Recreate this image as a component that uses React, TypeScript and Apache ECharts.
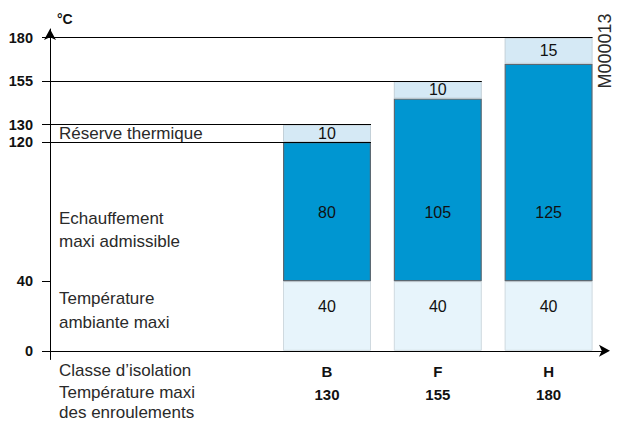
import React, { useEffect, useRef } from "react";
import * as echarts from "echarts";

const categories = ["B", "F", "H"];
const windingMax = [130, 155, 180];
const ambient = [40, 40, 40];
const heating = [80, 105, 125];
const reserve = [10, 10, 15];
const yTicks = [0, 40, 120, 130, 155, 180];

const FONT = '"Liberation Sans", Arial, Helvetica, sans-serif';
const W = 617;
const H = 423;
const GRID_LEFT = 50;
const GRID_RIGHT = 13;
const BANDS = 5;
const FIRST_BAND = 2;
const BAR_W = 88;
const TOP = 29;
const BOTTOM = 63.5;

export default function App() {
  const ref = useRef<HTMLDivElement>(null);
  useEffect(() => {
    if (!ref.current) return;
    const chart = echarts.init(ref.current, undefined, { renderer: "svg" });
    const unit = (W - GRID_LEFT - GRID_RIGHT) / BANDS;
    const half = BAR_W / 2 / unit;
    const center = (i: number) => FIRST_BAND + i + 0.5;
    const seg = (y: number, x2: number) => [{ coord: [0, y] }, { coord: [x2, y] }];
    const lineData = [
      seg(yTicks[1], BANDS + 0.02),
      seg(yTicks[2], center(0) + half),
      seg(yTicks[3], center(0) + half),
      seg(yTicks[4], center(1) + half),
      seg(yTicks[5], center(2) + half),
    ];
    const numStyle = { fontFamily: FONT, fontSize: 16, color: "#111" };
    const yCommon = { type: "value", min: -5, max: 185 };
    const txt = (t: string, y: number) => ({
      type: "text",
      x: 59,
      y,
      style: { text: t, font: `17px ${FONT}`, fill: "#2a2a2a", textVerticalAlign: "middle" },
    });
    chart.setOption({
      animation: false,
      grid: [
        { left: GRID_LEFT, right: GRID_RIGHT, top: TOP, bottom: BOTTOM },
        { left: GRID_LEFT + FIRST_BAND * unit, right: GRID_RIGHT, top: TOP, bottom: BOTTOM },
      ],
      xAxis: [
        {
          type: "value",
          gridIndex: 0,
          min: 0,
          max: BANDS,
          axisLine: {
            onZero: true,
            lineStyle: { color: "#000", width: 1 },
            symbol: ["none", "arrow"],
            symbolSize: [9, 11],
            symbolOffset: [0, 6],
          },
          axisTick: { show: false },
          splitLine: { show: false },
          axisLabel: { show: false },
        },
        {
          type: "category",
          gridIndex: 1,
          data: categories,
          axisLine: { show: false, onZero: false },
          axisTick: { show: false },
          splitLine: { show: false },
          axisLabel: {
            interval: 0,
            margin: 0,
            fontFamily: FONT,
            fontSize: 15,
            fontWeight: "bold",
            color: "#111",
            lineHeight: 23,
            formatter: (v: string, i: number) => v + "\n" + windingMax[i],
          },
        },
      ],
      yAxis: [
        {
          ...yCommon,
          gridIndex: 0,
          axisLine: {
            show: true,
            lineStyle: { color: "#000", width: 1 },
            symbol: ["none", "arrow"],
            symbolSize: [9, 11],
          },
          axisTick: {
            show: true,
            customValues: yTicks,
            length: 8,
            lineStyle: { color: "#000", width: 1 },
          },
          splitLine: { show: false },
          axisLabel: {
            customValues: yTicks,
            margin: 17,
            fontFamily: FONT,
            fontSize: 14.5,
            fontWeight: "bold",
            color: "#111",
          },
        },
        { ...yCommon, gridIndex: 1, show: false },
      ],
      series: [
        {
          type: "line",
          xAxisIndex: 0,
          yAxisIndex: 0,
          data: [],
          silent: true,
          markLine: {
            silent: true,
            symbol: "none",
            label: { show: false },
            lineStyle: { color: "#000", width: 1, type: "solid" },
            emphasis: { disabled: true },
            data: lineData,
            z: 5,
          },
        },
        {
          type: "bar",
          xAxisIndex: 1,
          yAxisIndex: 1,
          stack: "t",
          barWidth: BAR_W,
          data: ambient,
          itemStyle: { color: "#e7f4fb", borderColor: "#cfd9df", borderWidth: 1 },
          label: { show: true, position: "insideTop", distance: 17, ...numStyle },
          silent: true,
        },
        {
          type: "bar",
          xAxisIndex: 1,
          yAxisIndex: 1,
          stack: "t",
          barWidth: BAR_W,
          data: heating,
          itemStyle: { color: "#0096d1", borderColor: "#5b6872", borderWidth: 1.2 },
          label: { show: true, position: "insideBottom", distance: 61, ...numStyle },
          silent: true,
        },
        {
          type: "bar",
          xAxisIndex: 1,
          yAxisIndex: 1,
          stack: "t",
          barWidth: BAR_W,
          data: reserve,
          itemStyle: { color: "#d5e9f5", borderColor: "#c3d0d8", borderWidth: 1 },
          label: { show: true, position: "inside", ...numStyle },
          silent: true,
        },
      ],
      graphic: [
        { type: "text", x: 57, y: 19, style: { text: "°C", font: `bold 14px ${FONT}`, fill: "#111", textVerticalAlign: "middle" } },
        txt("Réserve thermique", 133),
        txt("Echauffement", 218),
        txt("maxi admissible", 241),
        txt("Température", 298),
        txt("ambiante maxi", 322),
        txt("Classe d’isolation", 370),
        txt("Température maxi", 392),
        txt("des enroulements", 412),
        {
          type: "text",
          x: 605,
          y: 51,
          rotation: Math.PI / 2,
          style: { text: "M000013", font: `18px ${FONT}`, fill: "#2a2a2a", textAlign: "center", textVerticalAlign: "middle" },
        },
      ],
    });
    return () => chart.dispose();
  }, []);
  return <div ref={ref} style={{ position: "absolute", left: 0, top: 0, width: W, height: H }} />;
}
